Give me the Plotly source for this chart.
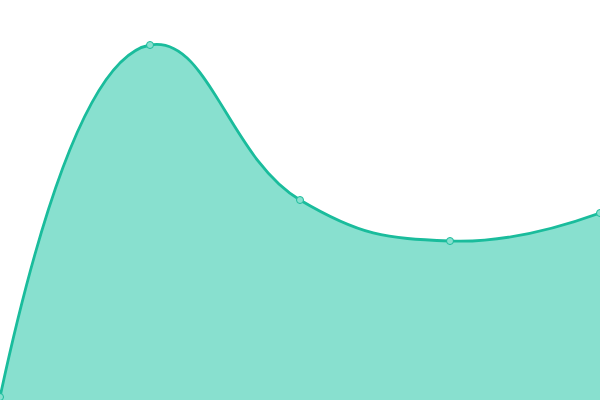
import plotly.graph_objects as go

categories = [0, 1, 2, 3, 4]
values = [3, 355, 200, 159, 187]

fig = go.Figure()
fig.add_trace(go.Scatter(
    x=categories, y=values, mode="lines+markers",
    line=dict(shape="spline", smoothing=1.3, color="#1abc9c", width=2.8),
    marker=dict(size=7, color="#88e0cf", line=dict(color="#1abc9c", width=1)),
    fill="tozeroy", fillcolor="#88e0cf", cliponaxis=False,
))
fig.update_layout(
    width=600, height=400, margin=dict(l=0, r=0, t=0, b=0),
    paper_bgcolor="white", plot_bgcolor="white", showlegend=False,
    xaxis=dict(range=[0, 4], visible=False, fixedrange=True),
    yaxis=dict(range=[0, 400], visible=False, fixedrange=True),
)
fig.write_html("out.html", config={"displayModeBar": False},
               post_script="document.body.style.margin='0';document.body.style.overflow='hidden';")
